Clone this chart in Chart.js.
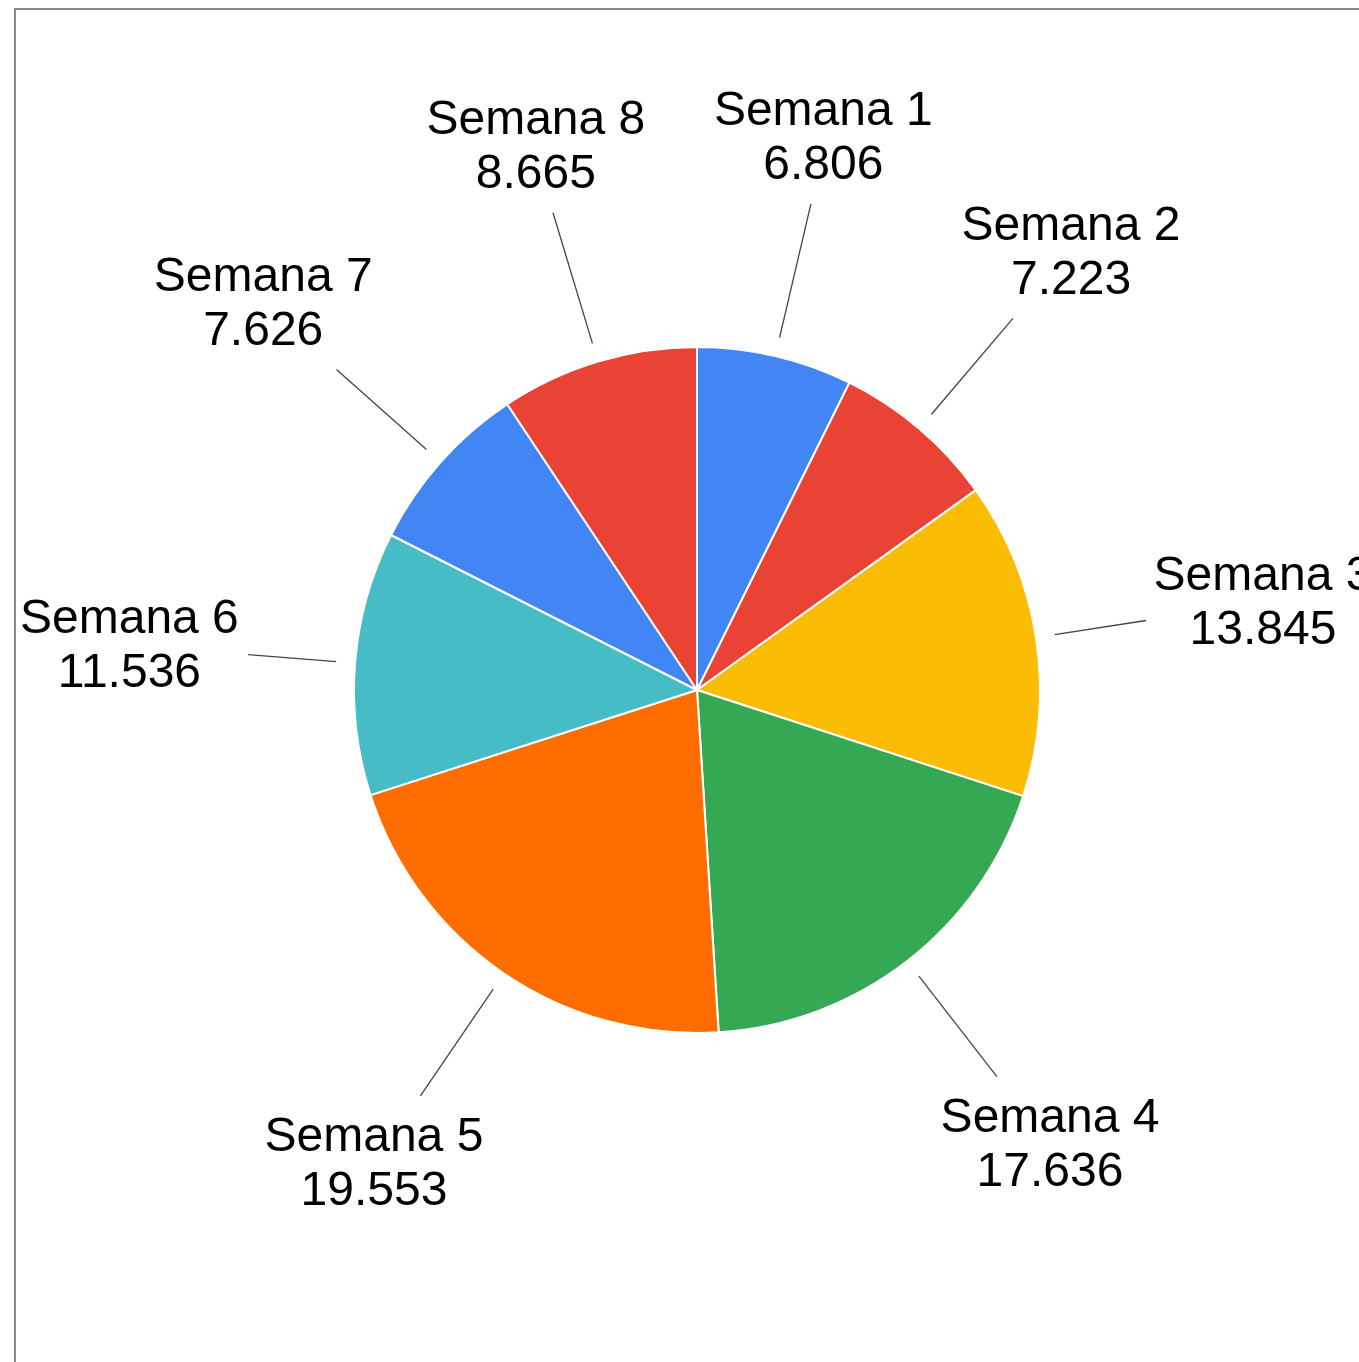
<!DOCTYPE html>
<html>
<head>
<meta charset="utf-8">
<script src="https://cdn.jsdelivr.net/npm/chart.js@4"></script>
<style>
  html, body { margin: 0; padding: 0; background: #fff; overflow: hidden; }
  #wrap { width: 1359px; height: 1362px; position: relative; }
</style>
</head>
<body>
<div id="wrap"><canvas id="pieChart"></canvas></div>
<script>
const categories = ['Semana 1', 'Semana 2', 'Semana 3', 'Semana 4', 'Semana 5', 'Semana 6', 'Semana 7', 'Semana 8'];
const values = [6.806, 7.223, 13.845, 17.636, 19.553, 11.536, 7.626, 8.665];
const valueLabels = ['6.806', '7.223', '13.845', '17.636', '19.553', '11.536', '7.626', '8.665'];
const sliceColors = ['#4285F4', '#EA4335', '#FBBC04', '#34A853', '#FF6D01', '#46BDC6', '#4285F4', '#EA4335'];

const FONT = '48px "Liberation Sans", Arial, sans-serif';
const LINE_H = 54;

// grey frame round the chart
const framePlugin = {
    id: 'frame',
    beforeDraw(chart) {
        const ctx = chart.ctx;
        ctx.save();
        ctx.strokeStyle = '#888888';
        ctx.lineWidth = 2;
        ctx.strokeRect(15, 9, 3000, 3000);
        ctx.restore();
    }
};

// outside labels with leader lines
const outsideLabels = {
    id: 'outsideLabels',
    afterDatasetsDraw(chart) {
        const ctx = chart.ctx;
        const meta = chart.getDatasetMeta(0);
        ctx.save();
        ctx.font = FONT;
        ctx.fillStyle = '#000';
        ctx.textAlign = 'center';
        ctx.textBaseline = 'alphabetic';
        meta.data.forEach(function(arc, i) {
            const p = arc.getProps(['x', 'y', 'startAngle', 'endAngle', 'outerRadius'], true);
            const mid = (p.startAngle + p.endAngle) / 2;
            const ux = Math.cos(mid);
            const uy = Math.sin(mid);
            const r0 = p.outerRadius + 19;
            const r1 = p.outerRadius * (1.30 + 0.16 * Math.abs(uy));
            const ex = p.x + ux * r1;
            const ey = p.y + uy * r1;

            ctx.strokeStyle = '#444';
            ctx.lineWidth = 1.3;
            ctx.beginPath();
            ctx.moveTo(p.x + ux * r0, p.y + uy * r0);
            ctx.lineTo(ex, ey);
            ctx.stroke();

            const l1 = categories[i];
            const l2 = valueLabels[i];
            const w = Math.max(ctx.measureText(l1).width, ctx.measureText(l2).width);
            const cx = ex + ux * 35 + ux * Math.abs(ux) * (w / 2 - 25);
            const cy = ey + Math.sign(uy) * Math.min(1, 1.8 * Math.abs(uy)) * 67 - 2;
            const capH = 34.4;
            const boxH = capH + LINE_H;
            const base1 = cy - boxH / 2 + capH;
            ctx.fillText(l1, cx, base1);
            ctx.fillText(l2, cx, base1 + LINE_H);
        });
        ctx.restore();
    }
};

const ctx = document.getElementById('pieChart').getContext('2d');
new Chart(ctx, {
    type: 'pie',
    data: {
        labels: categories,
        datasets: [{
            data: values,
            backgroundColor: sliceColors,
            borderColor: '#ffffff',
            borderWidth: 2
        }]
    },
    options: {
        responsive: true,
        maintainAspectRatio: false,
        animation: false,
        radius: 343,
        layout: {
            padding: { left: 35, right: 0, top: 18, bottom: 0 }
        },
        plugins: {
            legend: { display: false },
            tooltip: { enabled: false }
        }
    },
    plugins: [framePlugin, outsideLabels]
});
</script>
</body>
</html>
